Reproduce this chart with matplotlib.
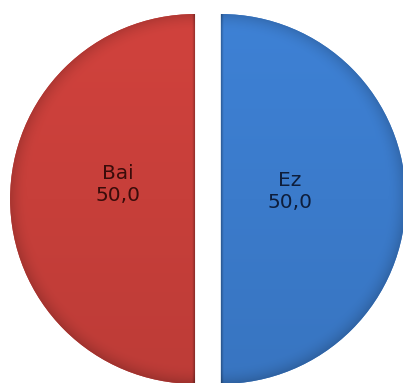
import numpy as np
import matplotlib
matplotlib.use("Agg")
import matplotlib.pyplot as plt
from matplotlib.colors import to_rgb

# data
labels = ["Bai", "Ez"]
values = [50.0, 50.0]
colors = ["#C73F3A", "#3B7BCB"]
text_colors = ["#3A0C0A", "#0E1E3C"]

fig = plt.figure(figsize=(4.03, 3.83), dpi=100)
ax = fig.add_axes([0, 0, 1, 1])
ax.set_aspect("equal")
ax.axis("off")

wedges, _ = ax.pie(values, colors=colors, startangle=90, counterclock=True,
                   explode=[0.07, 0.07], radius=1.0)

# excel-like shading clipped to each wedge
n = 800
xs = np.linspace(-1.2, 1.2, n)
X, Y = np.meshgrid(xs, xs)
for w, c in zip(wedges, colors):
    cx, cy = w.center
    r = np.hypot(X, Y)
    shade = 1.0 + 0.05 * Y                        # lighter top
    rim = np.clip((r - 0.90) / 0.10, 0, 1)
    shade = shade - 0.16 * rim ** 2               # darker rim
    edge = np.clip(1 - np.abs(X) / 0.015, 0, 1)   # thin dark flat edge
    shade = shade - 0.3 * edge
    rgb = np.clip(np.array(to_rgb(c))[None, None, :] * shade[..., None], 0, 1)
    im = ax.imshow(rgb, extent=(-1.2 + cx, 1.2 + cx, -1.2 + cy, 1.2 + cy),
                   origin="lower", zorder=2, interpolation="bilinear")
    im.set_clip_path(w)
    w.set_edgecolor("none")

ax.set_xlim(-1.124, 1.054)
ax.set_ylim(-0.995, 1.076)

pos = [(-0.486, 0.08), (0.443, 0.038)]
for (x, y), lab, v, tc in zip(pos, labels, values, text_colors):
    ax.text(x, y, f"{lab}\n{v:.1f}".replace(".", ","), ha="center", va="center",
            fontsize=14.5, color=tc, zorder=3, linespacing=1.2,
            family="DejaVu Sans")

fig.savefig("out.png", dpi=100)
